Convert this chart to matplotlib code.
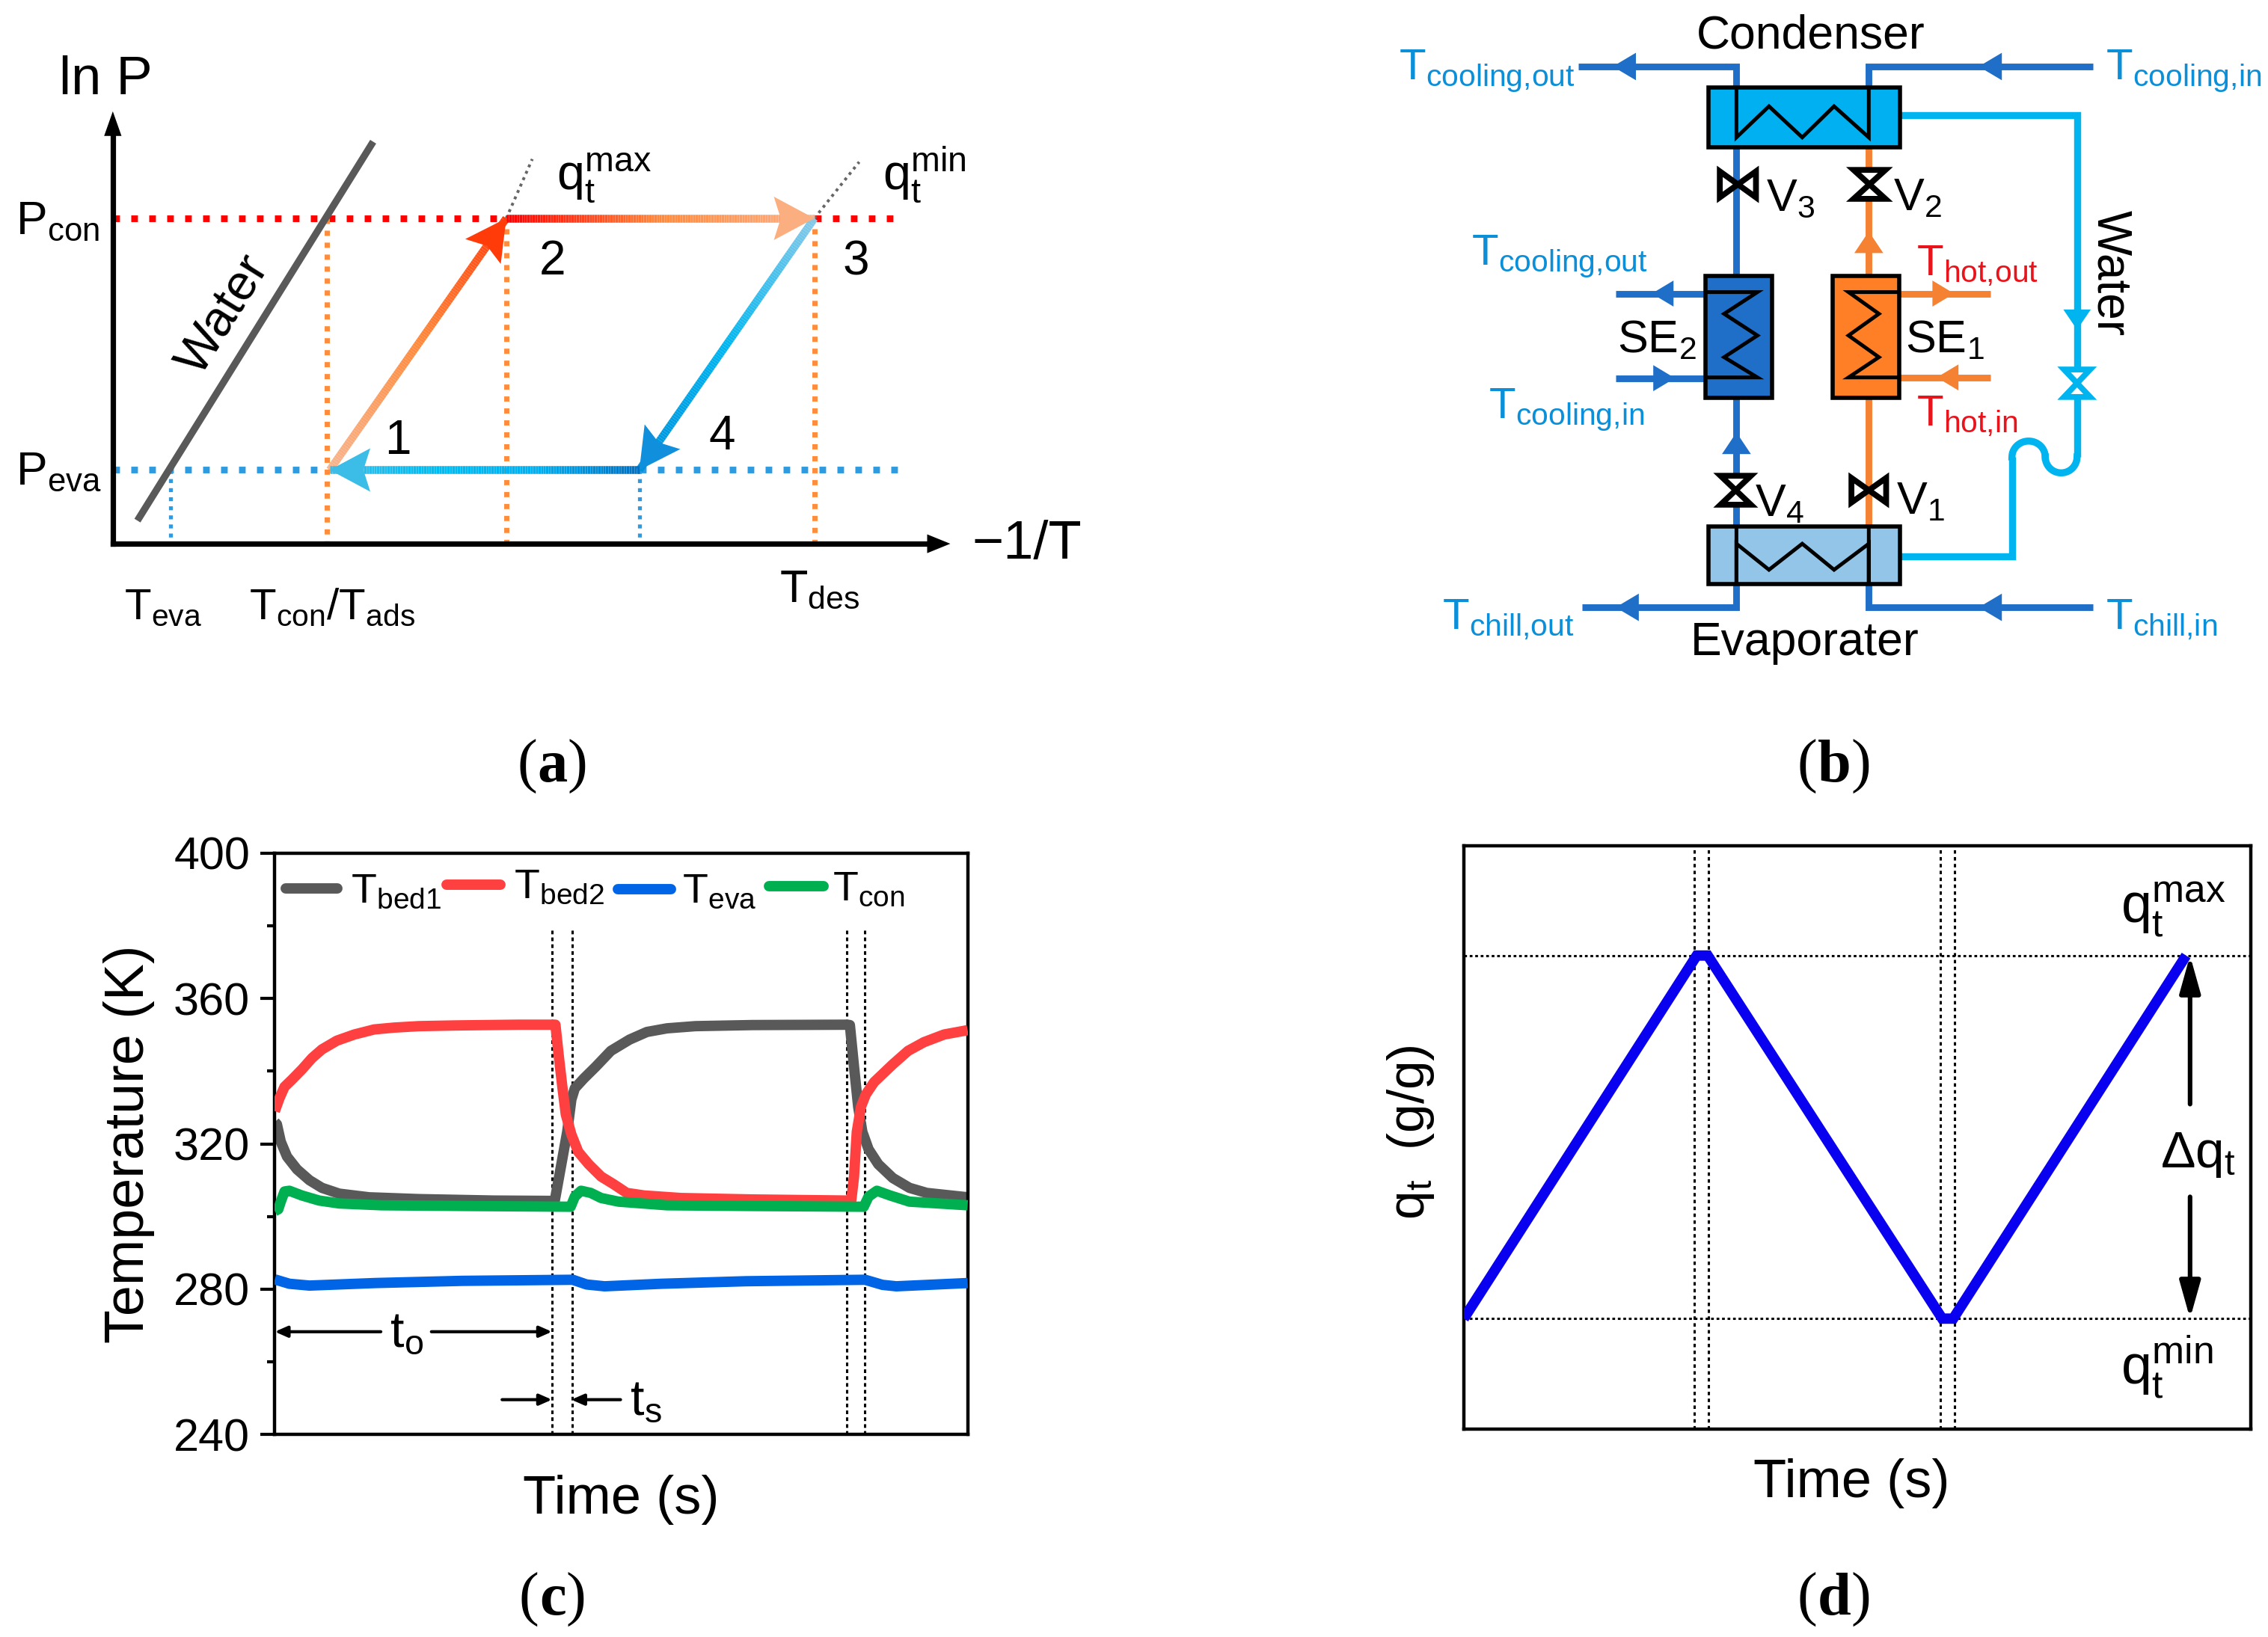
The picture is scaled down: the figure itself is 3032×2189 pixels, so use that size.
import numpy as np
import matplotlib
matplotlib.use("Agg")
import matplotlib.pyplot as plt
from matplotlib.collections import LineCollection
from matplotlib.colors import LinearSegmentedColormap
from matplotlib.patches import Polygon, Rectangle

plt.rcParams['font.family'] = ['Liberation Sans', 'DejaVu Sans']
plt.rcParams['mathtext.fontset'] = 'custom'
plt.rcParams['mathtext.rm'] = 'Liberation Sans'
plt.rcParams['mathtext.it'] = 'Liberation Sans'
plt.rcParams['mathtext.default'] = 'regular'

# panel (c): temperature cycles
bed1_t = [0, 0.3, 0.86, 1.76, 3.2, 5, 6.8, 9.3, 13.6, 20.8, 31.6, 40.4, 42.2, 42.8, 43.3, 44.6, 46.3, 48.5, 51.2, 53.7, 56.6, 60.7, 68.9, 82.6, 83, 83.6, 84.2, 84.8, 85.7, 87.1, 89.2, 91.6, 94.1, 100]
bed1_T = [326, 325.4, 320.6, 316.5, 313, 310, 307.9, 306.3, 305.3, 304.8, 304.4, 304.3, 323.3, 332.2, 335.3, 338, 341.2, 345.6, 348.7, 350.8, 351.8, 352.4, 352.7, 352.8, 352.7, 341.2, 330.2, 323.3, 318.5, 314.4, 310.6, 307.9, 306.5, 305.3]
bed2_t = [0, 0.68, 1.4, 2.48, 3.92, 5.36, 6.8, 8.95, 11.47, 14.35, 17.2, 20.8, 26.2, 35.2, 39.9, 40.5, 41, 41.5, 42, 42.8, 43.8, 45.3, 47.1, 48.9, 50.8, 53.3, 58.6, 68.9, 82.6, 83.2, 83.6, 84, 84.6, 85.3, 86.5, 89.2, 91.4, 93.7, 96.6, 100]
bed2_T = [329, 332.6, 335.7, 337.7, 340.5, 343.6, 346, 348.4, 350.1, 351.5, 352, 352.4, 352.6, 352.8, 352.8, 352.8, 343.9, 335.7, 328.1, 322.6, 317.8, 314.4, 311, 308.9, 306.5, 305.8, 305.1, 304.7, 304.4, 304.4, 311, 323.3, 330.2, 333.6, 337, 341.9, 345.6, 348, 350.1, 351.3]
eva_t = [0, 2.1, 5, 14.5, 27, 43, 45, 47.6, 55.8, 68, 85.2, 87.7, 89.7, 100]
eva_T = [282.7, 281.5, 281, 281.7, 282.3, 282.6, 281.3, 280.8, 281.5, 282.2, 282.6, 281.2, 280.8, 281.7]
con_t = [0, 0.5, 0.86, 1.4, 2.1, 3.9, 6.4, 9.3, 15.4, 28, 42.7, 43.3, 44.2, 45.6, 47.1, 49.6, 56.6, 68.9, 85, 85.7, 86.9, 88.8, 91.6, 100]
con_T = [301.5, 302, 304.1, 306.9, 307.1, 305.8, 304.4, 303.6, 303.1, 302.9, 302.7, 305.5, 307.1, 306.5, 305.1, 304.1, 303.1, 302.9, 302.7, 305.5, 307.1, 305.8, 304.1, 303.1]
switch_c = [40.05, 42.9, 82.6, 85.1]
temp_ticks = [240, 280, 320, 360, 400]
temp_minor = [260, 300, 340, 380]

# panel (d): uptake cycle
qt_time = [0, 29.6, 31, 60.8, 62.2, 91.8]
qt_val = [0.189, 0.812, 0.812, 0.189, 0.189, 0.812]
switch_d = [29.3, 31.1, 60.6, 62.4]
qt_max, qt_min = 0.812, 0.189

# panel (a): cycle corners
p1 = (228, 325)
p2 = (350, 151)
p3 = (563, 151)
p4 = (442, 325)
water_x = [95, 258]
water_y = [360, 98]

# panel (b): pipe routes
pipe_left = [(1200.5, 102), (1200.5, 191)]
pipe_left2 = [(1200.5, 275), (1200.5, 364)]
pipe_cool_out = [(1091, 46), (1200.5, 46), (1200.5, 66)]
pipe_cool_in = [(1447, 46), (1292, 46), (1292, 66)]
pipe_chill_out = [(1094, 420), (1200.5, 420), (1200.5, 404)]
pipe_chill_in = [(1447, 420), (1292, 420), (1292, 404)]
pipe_water_top = [(1313, 79.5), (1436, 79.5), (1436, 316)]
pipe_water_low = [(1313, 385), (1391, 385), (1391, 316)]
zig_cond = [(1200.5, 60), (1200.5, 95), (1223, 73.5), (1246, 95), (1268, 73.5), (1292, 95), (1292, 60)]
zig_evap = [(1200.5, 364), (1200.5, 404), (1200.5, 376), (1223, 394), (1246, 376), (1268, 394), (1292, 376), (1292, 404), (1292, 364)]
zig_se2 = [(1179, 202), (1215, 202), (1192, 217), (1215, 232), (1192, 247), (1215, 261), (1179, 261)]
zig_se1 = [(1313, 202), (1278, 202), (1299, 217), (1278, 232), (1299, 247), (1278, 261), (1313, 261)]

GRAY = '#595959'
PIPE = '#1F6FC8'
CYAN = '#00B4F0'
ORANGE = '#F58233'
TBLUE = '#0A8FD8'
TRED = '#E8141C'

fig = plt.figure(figsize=(15.16, 10.945), dpi=200)

def box(l, t, r, b):
    return [l / 1568, 1 - b / 1132, (r - l) / 1568, (b - t) / 1132]

pic = fig.add_axes([0, 0, 1, 1], zorder=5)
pic.set_xlim(0, 1568)
pic.set_ylim(1132, 0)
pic.axis('off')

def path(pts, color, lw, **kw):
    xs = [p[0] for p in pts]
    ys = [p[1] for p in pts]
    pic.plot(xs, ys, color=color, lw=lw, solid_capstyle=kw.pop('cap', 'butt'), solid_joinstyle='miter', **kw)

def head(tip, tail, length, half, color, notch=0.0, z=4):
    d = np.array(tip, float) - np.array(tail, float)
    d = d / np.hypot(*d)
    n = np.array([-d[1], d[0]])
    b = np.array(tip) - d * length
    mid = np.array(tip) - d * length * (1 - notch)
    pic.add_patch(Polygon([tip, b + n * half, mid, b - n * half], closed=True, fc=color, ec='none', zorder=z))

def grad_arrow(a, b, colors, head_color):
    cmap = LinearSegmentedColormap.from_list('g', colors)
    f = np.linspace(0, 1, 120)
    xs = a[0] + (b[0] - a[0]) * f
    ys = a[1] + (b[1] - a[1]) * f
    segs = [[(xs[i], ys[i]), (xs[i + 1], ys[i + 1])] for i in range(len(f) - 1)]
    pic.add_collection(LineCollection(segs, colors=cmap(f[:-1]), linewidths=3.8, capstyle='butt', zorder=3))
    head(b, a, 28, 15, head_color, notch=0.17)

def label(x, y, s, size=22, color='black', **kw):
    pic.text(x, y, s, fontsize=size, color=color, va=kw.pop('va', 'baseline'), ha=kw.pop('ha', 'left'), **kw)

# ---- panel a
dot_wide = (0, (1, 1.7))
dot_thin = (0, (1, 1.3))
pic.plot([78, 350], [151, 151], color='#FF0000', lw=3.2, ls=dot_wide)
pic.plot([563, 625], [151, 151], color='#FF0000', lw=3.2, ls=dot_wide)
pic.plot([78, 228], [325, 325], color='#2E9BE0', lw=3.2, ls=dot_wide)
pic.plot([442, 625], [325, 325], color='#2E9BE0', lw=3.2, ls=dot_wide)
for xv, yv in [(226, 151), (350, 158), (563, 158)]:
    pic.plot([xv, xv], [yv, 376], color='#FF8C3C', lw=2.5, ls=dot_thin)
for xv in [118, 442]:
    pic.plot([xv, xv], [325, 376], color='#2E9BE0', lw=1.9, ls=dot_thin)
pic.plot([350, 368], [151, 110], color='#666666', lw=1.4, ls=(0, (1, 1.4)))
pic.plot([563, 594], [151, 112], color='#666666', lw=1.4, ls=(0, (1, 1.4)))
pic.plot(water_x, water_y, color=GRAY, lw=3.4, solid_capstyle='butt')

pic.plot([78, 78], [376, 90], color='black', lw=2.6, solid_capstyle='projecting')
pic.plot([78, 645], [376, 376], color='black', lw=2.6, solid_capstyle='projecting')
head((78, 77), (78, 376), 17, 6, 'black')
head((657, 376), (78, 376), 16, 6.5, 'black')

grad_arrow(p1, p2, ['#F8B58E', '#FF8A3C', '#FF3B0A'], '#FF3B0A')
grad_arrow(p2, p3, ['#FF0000', '#FF8A3C', '#FBB089'], '#FBAF80')
grad_arrow(p3, p4, ['#85C9E8', '#00B6F0', '#0090DC'], '#0F8FDC')
grad_arrow(p4, p1, ['#0070C0', '#00B0F0', '#00BCF0', '#40BDE6'], '#3CBDE8')

label(41, 65, 'ln P', 26)
label(672, 386.5, '\u22121/T', 26)
label(11, 162, r'$P_{con}$', 22.5)
label(11, 335, r'$P_{eva}$', 22.5)
label(86, 428, r'$T_{eva}$', 21)
label(172, 428, r'$T_{con}/T_{ads}$', 21)
label(539, 416, r'$T_{des}$', 22)
label(385, 131, r'$q_t^{max}$', 24)
label(610, 131, r'$q_t^{min}$', 24)
label(275, 314, '1', 23, ha='center')
label(382, 190, '2', 23, ha='center')
label(592, 190, '3', 23, ha='center')
label(499, 311, '4', 23, ha='center')
label(155, 218, 'Water', 24, ha='center', va='center', rotation=58, rotation_mode='anchor')

# ---- panel b
path(pipe_left, PIPE, 3.2)
path(pipe_left2, PIPE, 3.2)
path(pipe_cool_out, PIPE, 3.2)
path(pipe_cool_in, PIPE, 3.2)
path(pipe_chill_out, PIPE, 3.2)
path(pipe_chill_in, PIPE, 3.2)
path([(1292, 102), (1292, 191)], ORANGE, 3.2)
path([(1292, 275), (1292, 364)], ORANGE, 3.2)
path([(1117, 203), (1179, 203)], PIPE, 3.2)
path([(1117, 261.5), (1179, 261.5)], PIPE, 3.2)
path([(1313, 203), (1376, 203)], ORANGE, 3.2)
path([(1313, 261), (1376, 261)], ORANGE, 3.2)
path(pipe_water_top, CYAN, 3.4)
path(pipe_water_low, CYAN, 3.4)
# S-bend of the water line
th = np.linspace(np.pi, 0, 30)
pic.plot(1402.5 + 11.5 * np.cos(th), 316 - 11 * np.sin(th), color=CYAN, lw=3.4)
th2 = np.linspace(np.pi, 2 * np.pi, 30)
pic.plot(1425 + 11 * np.cos(th2), 316 - 11 * np.sin(th2), color=CYAN, lw=3.4)

for l, t, r, b, c in [(1181, 60.5, 1313.5, 102, '#00B0F0'), (1181, 364, 1313.5, 404, '#92C5E8'),
                      (1179, 191, 1225, 275, '#1F6EC8'), (1267, 191, 1313, 275, '#FF7F27')]:
    pic.add_patch(Rectangle((l, t), r - l, b - t, fc=c, ec='black', lw=2, zorder=3))
for zz in [zig_cond, zig_evap, zig_se2, zig_se1]:
    path(zz, 'black', 1.8, zorder=4)

head((1115, 46), (1200, 46), 16, 9.5, PIPE)
head((1368, 46), (1447, 46), 16, 9.5, PIPE)
head((1117, 420), (1200, 420), 16, 9.5, PIPE)
head((1368, 420), (1447, 420), 16, 9.5, PIPE)
head((1142, 203), (1179, 203), 15, 9, PIPE)
head((1158, 261.5), (1117, 261.5), 15, 9, PIPE)
head((1351, 203), (1313, 203), 15, 9, ORANGE)
head((1339, 261), (1376, 261), 15, 9, ORANGE)
head((1200.5, 299), (1200.5, 364), 15, 10, PIPE)
head((1292, 160), (1292, 191), 15, 10, ORANGE)
head((1436, 228), (1436, 80), 14, 9.5, CYAN)

def valve(x, y, hw, hh, upright, color='black'):
    # two triangles meeting at the centre
    if upright:
        a = [(x - hw, y - hh), (x + hw, y - hh), (x, y)]
        c = [(x - hw, y + hh), (x + hw, y + hh), (x, y)]
    else:
        a = [(x - hw, y - hh), (x - hw, y + hh), (x, y)]
        c = [(x + hw, y - hh), (x + hw, y + hh), (x, y)]
    for tri in (a, c):
        pic.add_patch(Polygon(tri, closed=True, fc='white', ec=color, lw=2.8, joinstyle='miter', zorder=5))

valve(1201.5, 127.5, 12.5, 9, False)
valve(1292.5, 127.5, 11, 10, True)
valve(1200, 339, 10.5, 10, True)
valve(1292, 339, 12, 8.5, False)
valve(1436, 265, 9, 9.5, True, CYAN)

label(1252, 33.5, 'Condenser', 22.5, ha='center')
label(1248, 453, 'Evaporater', 22.5, ha='center')
label(967, 55, r'$T_{cooling{,}out}$', 21, TBLUE)
label(1456, 55, r'$T_{cooling{,}in}$', 21, TBLUE)
label(1017, 183, r'$T_{cooling{,}out}$', 21, TBLUE)
label(1029, 289, r'$T_{cooling{,}in}$', 21, TBLUE)
label(1325, 190.5, r'$T_{hot{,}out}$', 21, TRED)
label(1325, 294, r'$T_{hot{,}in}$', 21, TRED)
label(997, 435, r'$T_{chill{,}out}$', 21, TBLUE)
label(1456, 435, r'$T_{chill{,}in}$', 21, TBLUE)
label(1118, 244, r'$SE_2$', 22)
label(1317, 244, r'$SE_1$', 22)
label(1221, 145.5, r'$V_3$', 22)
label(1309, 145.5, r'$V_2$', 22)
label(1213, 357, r'$V_4$', 22)
label(1311, 355.5, r'$V_1$', 22)
label(1459, 189, 'Water', 23, ha='center', va='center', rotation=-90, rotation_mode='anchor')

# ---- panel c
ax = fig.add_axes(box(190, 590, 669, 992))
ax.plot(bed1_t, bed1_T, color=GRAY, lw=5, solid_capstyle='butt', zorder=2)
ax.plot(bed2_t, bed2_T, color='#FF4040', lw=5, solid_capstyle='butt', zorder=3)
ax.plot(eva_t, eva_T, color='#0064E6', lw=5, solid_capstyle='butt', zorder=3)
ax.plot(con_t, con_T, color='#00B050', lw=5, solid_capstyle='butt', zorder=4)
ax.vlines(switch_c, 240, 379, color='black', lw=1.1, ls=(0, (1.6, 1.4)), zorder=1)
ax.set_xlim(0, 100)
ax.set_ylim(240, 400)
ax.set_xticks([])
ax.set_yticks(temp_ticks)
ax.set_yticks(temp_minor, minor=True)
ax.tick_params(axis='y', which='major', length=7, width=1.5, labelsize=22, pad=5)
ax.tick_params(axis='y', which='minor', length=3.5, width=1.5)
for sp in ax.spines.values():
    sp.set_linewidth(1.6)
ax.set_ylabel('Temperature (K)', fontsize=26.5)
ax.yaxis.set_label_coords(-0.173, 0.5)
ax.set_xlabel('Time (s)', fontsize=26)
ax.xaxis.set_label_coords(0.5, -0.069)

# legend drawn by hand, entries are not on one baseline in the original
for xa, xb, yy, c in [(1.6, 9, 390.3, GRAY), (24.8, 32.6, 391.3, '#FF4040'), (49.5, 57.2, 390.2, '#0064E6'), (71.3, 79.2, 391, '#00B050')]:
    ax.plot([xa, xb], [yy, yy], color=c, lw=5, solid_capstyle='round')
for xt, yt, s in [(11, 390.3, r'$T_{bed1}$'), (34.5, 391.6, r'$T_{bed2}$'), (58.8, 390.3, r'$T_{eva}$'), (80.5, 391, r'$T_{con}$')]:
    ax.text(xt, yt - 4, s, fontsize=20, va='baseline')

arrow = dict(arrowstyle='-|>,head_width=0.22,head_length=0.5', color='black', lw=1.5, shrinkA=0, shrinkB=0)
ax.annotate('', xy=(0, 268.3), xytext=(15.3, 268.3), arrowprops=arrow)
ax.annotate('', xy=(40, 268.3), xytext=(22.6, 268.3), arrowprops=arrow)
ax.annotate('', xy=(40, 249.6), xytext=(32.8, 249.6), arrowprops=arrow)
ax.annotate('', xy=(42.8, 249.6), xytext=(49.9, 249.6), arrowprops=arrow)
ax.text(19, 267.8, r'$t_o$', fontsize=24, ha='center', va='center')
ax.text(53.5, 249, r'$t_s$', fontsize=24, ha='center', va='center')

# ---- panel d
ax2 = fig.add_axes(box(1012, 585, 1556, 988))
ax2.plot(qt_time, qt_val, color='#0A00F0', lw=5, solid_capstyle='butt', solid_joinstyle='miter', zorder=3)
ax2.vlines(switch_d, 0, 1, color='black', lw=1.1, ls=(0, (1.5, 1.5)), zorder=2)
ax2.hlines([qt_max, qt_min], 0, 100, color='black', lw=1.1, ls=(0, (1.2, 1.2)), zorder=2)
ax2.set_xlim(0, 100)
ax2.set_ylim(0, 1)
ax2.set_xticks([])
ax2.set_yticks([])
for sp in ax2.spines.values():
    sp.set_linewidth(1.6)
ax2.set_ylabel(r'$q_t\ $ (g/g)', fontsize=25)
ax2.yaxis.set_label_coords(-0.035, 0.509)
ax2.set_xlabel('Time (s)', fontsize=26)
ax2.xaxis.set_label_coords(0.493, -0.05)
arrow2 = dict(arrowstyle='-|>,head_width=0.42,head_length=1.5', color='black', lw=2.2, shrinkA=0, shrinkB=0)
ax2.annotate('', xy=(92.3, qt_max), xytext=(92.3, 0.557), arrowprops=arrow2)
ax2.annotate('', xy=(92.3, qt_min), xytext=(92.3, 0.398), arrowprops=arrow2)
ax2.text(93.3, 0.47, '\u0394' + r'$q_t$', fontsize=25, ha='center', va='center')
label(1466, 638, r'$q_t^{max}$', 26.5)
label(1466, 957, r'$q_t^{min}$', 26.5)

# ---- panel letters, upright brackets round a bold letter
for x, y, s, hw in [(382, 526, 'a', 10.4), (1268, 526, 'b', 11.5), (382, 1102, 'c', 9.3), (1268, 1102, 'd', 11.5)]:
    pic.text(x, y, s, fontsize=29, ha='center', va='center_baseline', family='Liberation Serif', fontweight='bold')
    pic.text(x - hw, y, '(', fontsize=29, ha='right', va='center_baseline', family='Liberation Serif')
    pic.text(x + hw, y, ')', fontsize=29, ha='left', va='center_baseline', family='Liberation Serif')

fig.savefig('out.png', dpi=200)
